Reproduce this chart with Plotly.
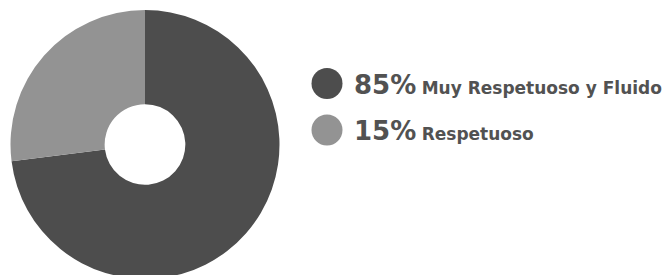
import plotly.graph_objects as go

categories = ["Muy Respetuoso y Fluido", "Respetuoso"]
slice_values = [73, 27]
colors = ["#4d4d4d", "#939393"]

legend_pcts = ["85%", "15%"]
legend_names = ["Muy Respetuoso y Fluido", "Respetuoso"]
legend_colors = ["#4d4d4d", "#939393"]

W, H = 663, 275

fig = go.Figure()
fig.add_trace(go.Pie(
    labels=categories,
    values=slice_values,
    marker=dict(colors=colors, line=dict(width=0)),
    hole=0.30,
    sort=False,
    direction="clockwise",
    rotation=0,
    textinfo="none",
    hoverinfo="skip",
    showlegend=False,
    domain=dict(x=[0, 274 / W], y=[0, 1]),
))

legend_y = list(range(len(legend_pcts)))
fig.add_trace(go.Scatter(
    x=[0] * len(legend_y),
    y=legend_y,
    mode="markers",
    marker=dict(size=31, color=legend_colors),
    cliponaxis=False,
    hoverinfo="skip",
    showlegend=False,
))

for yi, p, n in zip(legend_y, legend_pcts, legend_names):
    fig.add_annotation(
        x=0, y=yi, xref="x", yref="y",
        text=f"<span style='font-size:26px'><b>{p}</b></span> <b>{n}</b>",
        showarrow=False,
        xanchor="left", yanchor="middle",
        xshift=25, yshift=-1,
        font=dict(family="DejaVu Sans", size=17, color="#525252"),
    )

fig.update_layout(
    width=W,
    height=H,
    margin=dict(l=0, r=0, t=2, b=4),
    paper_bgcolor="white",
    plot_bgcolor="rgba(0,0,0,0)",
    xaxis=dict(domain=[319 / W, 1], range=[0, 1], visible=False, fixedrange=True),
    yaxis=dict(domain=[0, 1], range=[4.204, -1.581], visible=False, fixedrange=True),
)

fig.write_html("out.html")
